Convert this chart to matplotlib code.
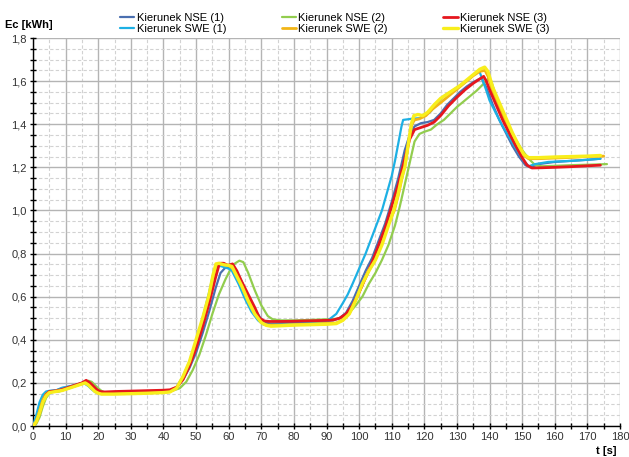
import matplotlib
matplotlib.use("Agg")
import matplotlib.pyplot as plt
from matplotlib.ticker import MultipleLocator, FuncFormatter

plt.rcParams['font.family'] = ['Liberation Sans', 'DejaVu Sans']

# ---- data ----
nse1_t = [0, 1, 2, 3, 4, 5, 7, 9, 11, 13, 15, 16, 17, 18, 19, 20, 21, 25, 30, 35, 40, 42, 44, 46, 48, 50, 52, 54, 56, 57.5, 59, 60.5, 62, 64, 66, 68, 70, 71.5, 73, 76, 80, 85, 90, 92, 94, 96, 98, 100, 102, 104, 106, 108, 110, 112, 114, 115.5, 117, 119, 121, 123, 125, 127, 129, 131, 133, 135, 137.5, 139, 141, 143, 145, 147, 149, 151, 152.5, 155, 160, 165, 170, 174]
nse1_v = [0, 0.03, 0.08, 0.13, 0.155, 0.162, 0.165, 0.175, 0.183, 0.19, 0.2, 0.207, 0.2, 0.185, 0.17, 0.158, 0.155, 0.157, 0.159, 0.161, 0.164, 0.166, 0.18, 0.215, 0.27, 0.34, 0.43, 0.53, 0.64, 0.71, 0.735, 0.735, 0.72, 0.67, 0.6, 0.54, 0.495, 0.478, 0.475, 0.477, 0.48, 0.483, 0.487, 0.49, 0.5, 0.525, 0.58, 0.65, 0.72, 0.78, 0.86, 0.94, 1.04, 1.15, 1.28, 1.35, 1.39, 1.405, 1.41, 1.42, 1.45, 1.49, 1.52, 1.55, 1.575, 1.595, 1.615, 1.57, 1.49, 1.42, 1.36, 1.30, 1.25, 1.21, 1.2, 1.215, 1.225, 1.23, 1.235, 1.24]

swe1_t = [0, 1, 2, 3, 4, 5, 7, 9, 11, 13, 15, 15.5, 17, 18, 19, 20, 22, 30, 40, 42, 44, 46, 48, 50, 52, 54, 55.5, 56.5, 58, 60, 61, 63, 65, 67, 69, 70.5, 72, 76, 80, 85, 90, 93, 95, 96.5, 98, 100, 102, 104, 106, 107, 108.5, 110, 111, 112, 113, 113.5, 116, 118.5, 120, 122, 124, 126, 128, 130, 132, 134, 136, 136.8, 137.5, 138.7, 140, 142, 144, 146, 148, 150, 152, 154, 158, 165, 170, 174]
swe1_v = [0, 0.05, 0.11, 0.145, 0.16, 0.163, 0.165, 0.178, 0.183, 0.19, 0.198, 0.2, 0.185, 0.17, 0.158, 0.152, 0.152, 0.155, 0.16, 0.163, 0.18, 0.23, 0.3, 0.39, 0.5, 0.62, 0.72, 0.745, 0.74, 0.73, 0.72, 0.66, 0.59, 0.53, 0.49, 0.472, 0.468, 0.47, 0.473, 0.477, 0.485, 0.52, 0.57, 0.61, 0.66, 0.73, 0.80, 0.88, 0.96, 1.0, 1.08, 1.16, 1.23, 1.31, 1.39, 1.42, 1.425, 1.428, 1.44, 1.46, 1.5, 1.53, 1.55, 1.57, 1.59, 1.615, 1.64, 1.65, 1.62, 1.57, 1.51, 1.45, 1.39, 1.34, 1.29, 1.24, 1.205, 1.215, 1.225, 1.23, 1.235, 1.24]

nse2_t = [0, 1, 2, 3, 4, 5, 6, 8, 10, 12, 14, 16, 17, 18, 19, 20, 21, 22, 25, 30, 35, 40, 43, 45, 47, 49, 51, 53, 55, 57, 59, 60.5, 62, 63.3, 64.5, 66, 68, 70, 72, 73.5, 76, 80, 85, 90, 93, 95, 97, 99, 101, 103, 105, 107, 109, 111, 112.5, 114, 115.5, 117, 118.5, 120, 122, 124, 126, 128, 130, 132, 134, 136, 138, 139.5, 140.5, 142, 144, 146, 148, 150, 152, 154, 156, 160, 165, 170, 176]
nse2_v = [0, 0.01, 0.04, 0.09, 0.13, 0.15, 0.158, 0.16, 0.17, 0.18, 0.19, 0.2, 0.21, 0.205, 0.19, 0.175, 0.163, 0.155, 0.155, 0.157, 0.159, 0.162, 0.165, 0.175, 0.205, 0.26, 0.33, 0.42, 0.52, 0.61, 0.68, 0.725, 0.755, 0.767, 0.76, 0.71, 0.63, 0.56, 0.51, 0.495, 0.49, 0.49, 0.492, 0.495, 0.497, 0.505, 0.525, 0.56, 0.6, 0.66, 0.71, 0.77, 0.84, 0.93, 1.02, 1.12, 1.22, 1.32, 1.355, 1.365, 1.375, 1.4, 1.42, 1.45, 1.48, 1.505, 1.53, 1.555, 1.585, 1.61, 1.6, 1.53, 1.46, 1.39, 1.33, 1.28, 1.24, 1.21, 1.205, 1.207, 1.21, 1.212, 1.215]

nse3_t = [0, 1, 2, 3, 4, 5, 7, 9, 11, 13, 15, 16.3, 17.5, 18.5, 19.5, 20.5, 22, 25, 30, 35, 40, 42, 44, 46, 48, 50, 52, 54, 56, 57.2, 58.5, 59.7, 61.2, 62.5, 64, 66, 68, 69.5, 71, 72.5, 76, 80, 85, 90, 92, 94, 96, 98, 100, 102, 104, 106, 108, 110, 112, 114, 115.5, 117, 119, 121, 123, 125, 127.4, 130, 132.5, 135, 137, 138.2, 139, 140, 142, 144, 146, 148, 150, 151.5, 153, 156, 160, 165, 170, 174]
nse3_v = [0, 0.02, 0.06, 0.11, 0.145, 0.16, 0.163, 0.17, 0.18, 0.19, 0.2, 0.212, 0.2, 0.185, 0.17, 0.16, 0.158, 0.16, 0.162, 0.164, 0.166, 0.168, 0.18, 0.215, 0.28, 0.36, 0.46, 0.57, 0.69, 0.755, 0.755, 0.745, 0.752, 0.72, 0.67, 0.61, 0.55, 0.5, 0.487, 0.485, 0.485, 0.486, 0.488, 0.49, 0.492, 0.5, 0.52, 0.56, 0.62, 0.69, 0.76, 0.84, 0.92, 1.02, 1.12, 1.24, 1.33, 1.375, 1.385, 1.395, 1.41, 1.44, 1.485, 1.525, 1.56, 1.59, 1.61, 1.622, 1.6, 1.56, 1.49, 1.42, 1.36, 1.3, 1.245, 1.21, 1.197, 1.198, 1.2, 1.203, 1.207, 1.21]

swe2_t = [0, 1, 2, 3, 4, 5, 7, 9, 11, 13, 15, 16, 17, 18, 19, 20, 21, 25, 30, 35, 40, 42, 44, 46, 48, 50, 52, 54, 55.5, 56.5, 58, 60, 61.5, 63, 65, 67, 69, 70.5, 72, 76, 80, 85, 90, 93, 95, 97, 99, 101, 103, 105, 107, 109, 110.8, 112, 113, 114.2, 115.2, 116.2, 117, 118.5, 120.5, 122.5, 125, 127, 129, 131, 133, 135, 137, 138.6, 139.6, 141, 143, 145, 147, 149, 150.5, 152, 155, 160, 165, 170, 175]
swe2_v = [0, 0.02, 0.07, 0.12, 0.148, 0.158, 0.162, 0.167, 0.177, 0.187, 0.197, 0.203, 0.195, 0.18, 0.163, 0.154, 0.15, 0.15, 0.152, 0.154, 0.157, 0.16, 0.175, 0.225, 0.29, 0.38, 0.48, 0.59, 0.68, 0.74, 0.755, 0.745, 0.73, 0.69, 0.62, 0.56, 0.5, 0.475, 0.468, 0.468, 0.47, 0.473, 0.476, 0.478, 0.492, 0.523, 0.585, 0.655, 0.72, 0.775, 0.85, 0.94, 1.0, 1.07, 1.14, 1.22, 1.32, 1.4, 1.42, 1.425, 1.44, 1.47, 1.5, 1.525, 1.55, 1.575, 1.6, 1.625, 1.645, 1.65, 1.62, 1.55, 1.48, 1.41, 1.345, 1.29, 1.255, 1.24, 1.24, 1.243, 1.246, 1.25, 1.252]

swe3_t = [0, 1, 2, 3, 4, 5, 7, 9, 11, 13, 15, 16, 17, 18, 19, 20, 21, 25, 30, 35, 40, 42, 44, 46, 48, 50, 52, 54, 55.2, 56.1, 57, 58.5, 60, 61, 62, 64, 66, 68, 70, 71.5, 73, 76, 80, 85, 90, 93, 95, 97, 99, 101, 103, 105, 107, 109, 110.6, 112, 113, 114, 115, 116, 116.8, 118, 119.5, 121, 123, 125, 127, 129, 131, 133, 135, 137, 138.5, 139.5, 141, 143, 145, 147, 149, 150.5, 152, 155, 160, 165, 170, 174]
swe3_v = [0, 0.02, 0.06, 0.11, 0.14, 0.155, 0.16, 0.165, 0.175, 0.185, 0.195, 0.2, 0.19, 0.175, 0.16, 0.152, 0.148, 0.148, 0.15, 0.152, 0.155, 0.158, 0.175, 0.23, 0.3, 0.4, 0.5, 0.61, 0.7, 0.752, 0.755, 0.748, 0.745, 0.74, 0.71, 0.65, 0.58, 0.52, 0.48, 0.467, 0.463, 0.465, 0.468, 0.47, 0.472, 0.475, 0.49, 0.52, 0.585, 0.66, 0.72, 0.77, 0.84, 0.93, 1.0, 1.08, 1.15, 1.2, 1.3, 1.4, 1.44, 1.445, 1.44, 1.455, 1.49, 1.52, 1.54, 1.56, 1.58, 1.605, 1.63, 1.655, 1.665, 1.645, 1.57, 1.5, 1.43, 1.36, 1.3, 1.26, 1.245, 1.245, 1.248, 1.25, 1.252, 1.255]

labels = ["Kierunek NSE (1)", "Kierunek SWE (1)", "Kierunek NSE (2)",
          "Kierunek SWE (2)", "Kierunek NSE (3)", "Kierunek SWE (3)"]
colors = ["#4A6FB0", "#1DB0E4", "#92CD4E", "#F2B516", "#E6171E", "#F8EE1C"]
widths = [1.6, 1.6, 1.6, 2.0, 2.0, 2.4]

series = [(nse1_t, nse1_v), (swe1_t, swe1_v), (nse2_t, nse2_v),
          (swe2_t, swe2_v), (nse3_t, nse3_v), (swe3_t, swe3_v)]
zorders = [3, 4, 3, 5, 6, 7]

fig = plt.figure(figsize=(6.29, 4.57), dpi=100)
ax = fig.add_axes([33/629, 1 - 426/457, (620 - 33)/629, (426 - 38)/457])

handles = []
for (t, v), lab, c, w, z in zip(series, labels, colors, widths, zorders):
    h, = ax.plot(t, v, color=c, lw=w, label=lab, zorder=z, solid_capstyle='round')
    handles.append(h)

ax.set_xlim(0, 180)
ax.set_ylim(0, 1.8)
ax.xaxis.set_major_locator(MultipleLocator(10))
ax.xaxis.set_minor_locator(MultipleLocator(5))
ax.yaxis.set_major_locator(MultipleLocator(0.2))
ax.yaxis.set_minor_locator(MultipleLocator(0.05))
ax.yaxis.set_major_formatter(FuncFormatter(lambda y, p: f"{y:.1f}".replace('.', ',')))
ax.xaxis.set_major_formatter(FuncFormatter(lambda x, p: f"{x:.0f}"))

ax.grid(which='major', color='#b4b4b4', lw=1.0, ls='-')
ax.grid(which='minor', color='#d2d2d2', lw=0.8, ls=(0, (3, 2)))
ax.set_axisbelow(True)

for s in ['top', 'right']:
    ax.spines[s].set_visible(False)
for s in ['left', 'bottom']:
    ax.spines[s].set_color('black')
    ax.spines[s].set_linewidth(1.0)

ax.tick_params(which='major', direction='inout', length=5, width=1, labelsize=8,
               colors='black', labelcolor='#333333', pad=2)
ax.tick_params(which='minor', direction='inout', length=4, width=1, colors='black')

fig.text(5/629, 1 - 25/457, "Ec [kWh]", fontsize=8, fontweight='bold', va='center', ha='left')
fig.text(617/629, 1 - 451/457, "t [s]", fontsize=8, fontweight='bold', va='center', ha='right')

fig.legend(handles=handles, labels=labels, ncol=3, loc='upper left',
           bbox_to_anchor=(120/629, 1 - 13/457), frameon=False, fontsize=8,
           handlelength=1.3, handletextpad=0.2, columnspacing=5.0,
           labelspacing=0.1, borderpad=0, borderaxespad=0)

fig.savefig("out.png", dpi=100)
